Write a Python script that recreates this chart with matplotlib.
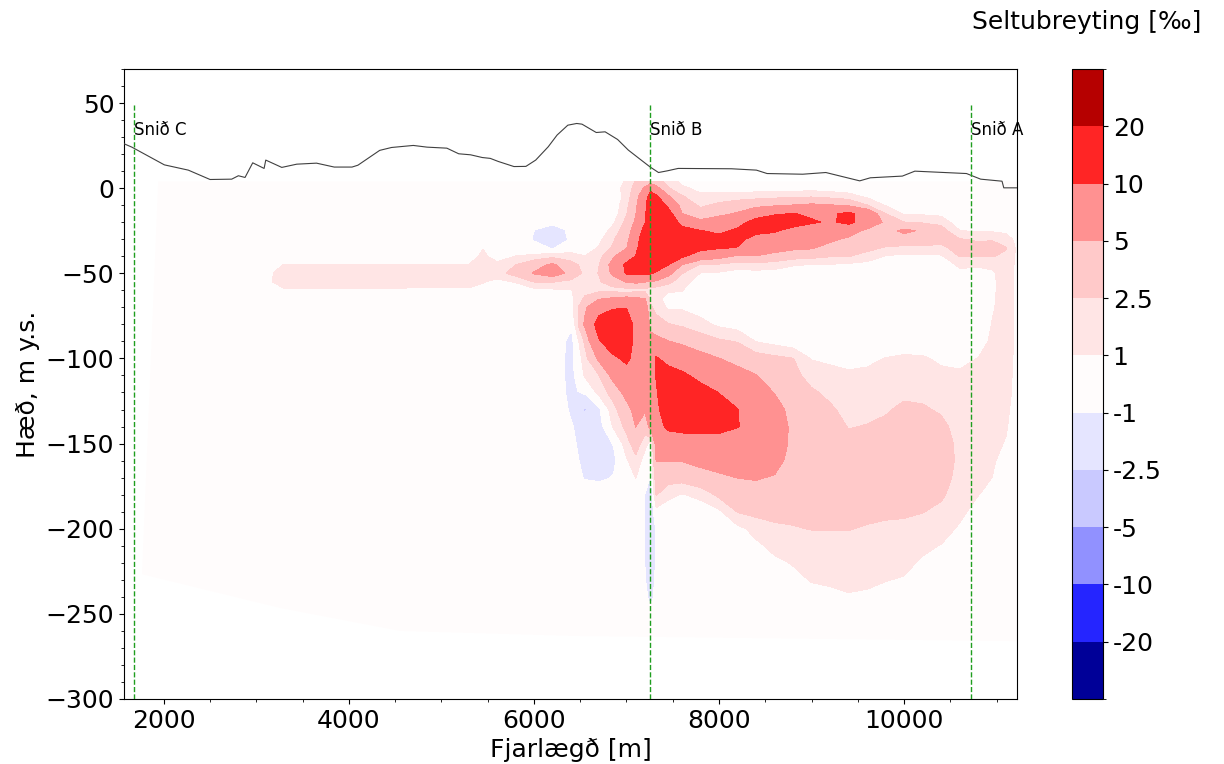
import numpy as np
import matplotlib
matplotlib.use("Agg")
import matplotlib.pyplot as plt
from matplotlib.colors import ListedColormap, BoundaryNorm
from matplotlib.cm import ScalarMappable
from matplotlib.ticker import AutoMinorLocator

plt.rcParams['font.family'] = ['DejaVu Sans']

# ---------------- data ----------------
# ground surface along the profile (distance m, elevation m y.s.)
terrain_dist = [1570, 1655, 2006, 2265, 2500, 2734, 2806, 2878, 2961, 3084, 3102, 3275,
                3437, 3650, 3842, 4034, 4098, 4333, 4461, 4696, 4845, 5059, 5187, 5315,
                5442, 5528, 5614, 5784, 5913, 6019, 6154, 6250, 6366, 6462, 6519, 6673,
                6769, 6904, 7019, 7135, 7254, 7346, 7442, 7558, 8135, 8404, 8519, 8904,
                9154, 9520, 9635, 9981, 10116, 10674, 10827, 11058, 11077, 11220]
terrain_elev = [26.1, 24.1, 13.7, 10.6, 5.1, 5.3, 7.3, 6.3, 14.9, 11.6, 16.5, 12.2,
                14.1, 14.7, 12.4, 12.4, 13.5, 22.2, 23.9, 25.1, 24.1, 23.5, 20.2, 19.6,
                18.0, 17.5, 15.7, 12.7, 12.8, 16.5, 24.3, 31.2, 37.0, 38.0, 37.6, 32.7,
                33.1, 28.6, 22.4, 17.5, 12.5, 9.2, 10.2, 11.6, 11.4, 10.6, 8.6, 8.2,
                9.2, 4.3, 6.1, 7.1, 10.0, 8.6, 5.3, 4.1, 0.2, 0.2]

# cross sections
section_names = ['Snið C', 'Snið B', 'Snið A']
section_dist = [1680, 7254, 10724]

# outline of the model domain
domain_dist = [1940, 11220, 11220, 6489, 4554, 3256, 1765]
domain_elev = [4, 4, -266, -263, -260, -246.5, -226.7]

# grid of salinity change (per mille): nodes in distance and elevation
grid_dist = [1570, 2900, 3100, 3300, 5300, 5450, 5600, 5800, 6000, 6200, 6400, 6550,
             6700, 6850, 7000, 7100, 7200, 7260, 7320, 7450, 7600, 7800, 8000, 8200,
             8400, 8600, 8800, 9000, 9200, 9400, 9600, 9800, 10000, 10200, 10400,
             10600, 10800, 10950, 11100, 11220]
grid_elev = [4, 0, -5, -10, -15, -20, -25, -30, -35, -40, -45, -50, -55, -60, -65,
             -70, -80, -90, -100, -110, -120, -130, -140, -150, -160, -170, -180,
             -190, -200, -210, -220, -230, -240, -250, -265]

# one list per distance node, values from top (4 m) to bottom (-265 m)
salinity_change_cols = [
    [0,0,0,0,0, 0,0,0,0,0, 0,0,0,0,0, 0,0,0,0,0, 0,0,0,0,0, 0,0,0,0,0, 0,0,0,0,0],
    [0,0,0,0,0, 0,0,0,0,0, 0,0,0,0,0, 0,0,0,0,0, 0,0,0,0,0, 0,0,0,0,0, 0,0,0,0,0],
    [0,0,0,0,0, 0,0,0,0,0, 0,0.5,0.6,0.5,0, 0,0,0,0,0, 0,0,0,0,0, 0,0,0,0,0, 0,0,0,0,0],
    [0,0,0,0,0, 0,0,0,0,0, 1.1,1.7,1.7,0.8,0, 0,0,0,0,0, 0,0,0,0,0, 0,0,0,0,0, 0,0,0,0,0],
    [0,0,0,0,0, 0,0,0,0,0, 1.1,1.7,1.7,0.7,0, 0,0,0,0,0, 0,0,0,0,0, 0,0,0,0,0, 0,0,0,0,0],
    [0,0,0,0,0, 0,0,0,0.9,1.5, 1.6,1.6,1.1,0.4,0, 0,0,0,0,0, 0,0,0,0,0, 0,0,0,0,0, 0,0,0,0,0],
    [0,0,0,0,0, 0,0,0,0,0, 1.6,1.8,0.6,0,0, 0,0,0,0,0, 0,0,0,0,0, 0,0,0,0,0, 0,0,0,0,0],
    [0,0,0,0,0, 0,0,0,0,1.05, 2.5,3.2,1.1,0,0, 0,0,0,0,0, 0,0,0,0,0, 0,0,0,0,0, 0,0,0,0,0],
    [0,0,0,0,0, 0,-0.95,-1.05,0,1.3, 4,5.2,2.55,0.5,0, 0,0,0,0,0, 0,0,0,0,0, 0,0,0,0,0, 0,0,0,0,0],
    [0,0,0,0,0, -0.6,-1.5,-1.6,-1.0,2.0, 5.5,6.5,2.6,0.7,0, 0,0,0,0,0, 0,0,0,0,0, 0,0,0,0,0, 0,0,0,0,0],
    [0,0,0,0,0, 0,-0.7,-0.8,0.3,1.5, 3.3,4.2,2.0,0.9,0.6, 0.4,-0.6,-1.3,-1.4,-1.4, -1.3,-1.1,-0.8,-0.5,-0.2, 0,0,0,0,0, 0,0,0,0,0],
    [0,0,0,0,0, 0,0,0,0.3,1.05, 1.8,2.0,1.9,2.0,2.8, 4.5,5.5,2.8,1.8,1.2, -0.6,-2.7,-1.6,-1.6,-1.4, -1.05,0,0,0,0, 0,0,0,0,0],
    [0,0,0,0,0, 0,0,0.6,1.1,1.8, 2.4,2.55,2.3,2.0,4.8, 8.0,12,9.5,5.5,2.4, 1.4,-1.05,-1.5,-1.6,-1.5, -1.2,0,0,0,0, 0,0,0,0,0],
    [0,0,0,0,0, 0.7,1.5,2.2,2.7,4.5, 6.0,5.5,3.5,1.8,5.5, 9.5,14,13,9,5.8, 3.2,1.8,1.05,-0.9,-1.3, -0.9,0,0,0,0, 0,0,0,0,0],
    [1.2,1.8,1.5,2.0,2.4, 3.0,3.6,4.2,4.8,7.5, 11,10.5,5.2,1.6,6, 9.8,14,14,11,8, 6,4,3,1.8,0.8, 0,0,0,0,0, 0,0,0,0,0],
    [2.6,3.0,4.0,4.5,4.9, 5.5,6.5,7.5,8.8,10.2, 13,11,5.6,1.8,5.5, 7,8,8,8.5,8, 7,6,5.05,3.5,2.0, 1.05,0,0,0,0, 0,0,0,0,0],
    [3.3,5.5,7.5,8.3,9.0, 9.8,12,14,14,14, 14,10.5,5.2,2.0,5.2, 7,8,8,8.5,8.5, 7,5.3,3.5,1.5,0.3, -0.4,-0.9,-0.9,-0.9,-0.9, -0.9,-0.8,-0.6,-0.3,0],
    [3.6,8,13,15,16, 16,16,16,16,15, 13,10.5,4.5,1.3,2.0, 2.8,4.2,6,7,8, 8,8,6,0.5,-0.3, -0.9,-1.6,-1.7,-1.7,-1.7, -1.6,-1.5,-1.2,-0.6,0],
    [3.2,6,11,14,15, 15,15,15,15,14, 12,9.5,4.5,1.2,1.6, 2.0,3.2,6,10.5,10.2, 9.5,8.5,8,6,5.05, 3.5,2.6,0.5,-0.7,-0.7, -0.7,-0.6,-0.5,-0.2,0],
    [2.0,2.7,5.5,9,12, 14,14,14,14,12, 10.2,6,3.0,1.3,0.3, 0.8,2.6,5.1,8.5,12, 14,14,11,7,5.1, 3.2,1.5,0,0,0, 0,0,0,0,0],
    [0.6,1.3,2.7,3.8,5.1, 8.5,11.5,12,12,10.8, 4.9,2.55,1.6,1.05,0.5, 0.8,2.2,4.5,7,11, 14,14,11.5,7.5,5.1, 3.2,0.9,0,0,0, 0,0,0,0,0],
    [0,0.6,1.3,2.2,3.3, 5.8,10.2,12,11.5,7, 2.3,0.95,0.3,0,0, 0.3,1.5,3.5,6,8.5, 12,13,11.5,8,5.7, 4.0,1.4,0.2,0,0, 0,0,0,0,0],
    [0,0.5,1.6,2.9,4.4, 6.5,9.0,11.5,10.5,6, 2.2,0.8,0.2,0,0, 0,0.7,2.8,5.05,7, 9.9,12,11,8.5,6.3, 4.5,2.9,0.7,0,0, 0,0,0,0,0],
    [0,0.2,1.8,3.5,5.3, 8.2,10.8,11.5,9.8,4.5, 1.6,0.5,0,0,0, 0,0.3,2.4,4.0,6.2, 8.5,10.1,10.2,7.5,6, 5.05,3.6,2.6,0.6,0, 0,0,0,0,0],
    [0,0.3,1.9,4.2,7.5, 12,11.5,8,6.5,4.9, 1.7,0.6,0,0,0, 0,0,0.95,3.3,5.1, 6.5,7.5,8,7.5,6.3, 5.2,4.0,3.0,1.5,0.7, 0,0,0,0,0],
    [0,0.3,2.1,4.6,9.5, 13,10.5,8,6.3,4.0, 1.6,0.5,0,0,0, 0,0,0.5,2.9,3.8, 4.9,6.3,7.2,7,6, 4.8,3.8,3.0,2.2,1.4, 0.7,0,0,0,0],
    [0,0.3,2.2,5.1,10.2, 12,8.5,6.8,5.6,3.2, 1.1,0.4,0,0,0, 0,0,0,2.55,2.9, 3.5,3.9,4.2,4.2,4.0, 3.8,3.3,2.9,2.4,1.6, 1.1,0.6,0,0,0],
    [0,0.4,2.4,5.5,9.3, 10.5,7.5,6.0,5.3,3.0, 0.95,0.3,0,0,0, 0,0,0,0.9,2.0, 2.7,3.0,3.2,3.4,3.4, 3.3,3.1,2.8,2.55,1.9, 1.5,1.1,0.5,0,0],
    [0,0.3,2.0,5.2,9.3, 9.5,7,5.6,4.0,2.6, 0.9,0.2,0,0,0, 0,0,0,0.7,1.5, 2.2,2.7,3.0,3.2,3.3, 3.2,3.0,2.8,2.55,2.0, 1.6,1.2,0.7,0.1,0],
    [0,0.2,1.6,4.5,11, 11,6.8,4.4,3.2,2.55, 0.7,0.1,0,0,0, 0,0,0,0.4,1.3, 1.8,2.1,2.45,2.8,3.0, 3.0,2.9,2.7,2.55,2.1, 1.7,1.3,0.9,0.2,0],
    [0,0,0.8,2.55,8.0, 8.0,4.2,3.4,2.9,2.0, 0.4,0,0,0,0, 0,0,0,0.6,1.4, 1.9,2.2,2.55,2.8,3.0, 3.1,3.0,2.8,2.4,2.1, 1.7,1.25,0.8,0.2,0],
    [0,0,0,0.9,2.55, 4.3,4.0,3.1,2.4,0.9, 0.2,0,0,0,0, 0,0,0,1.05,1.6, 2.0,2.4,2.7,3.0,3.2, 3.2,3.0,2.7,2.3,2.0, 1.5,1.05,0.6,0.1,0],
    [0,0,0,0,0.8, 2.55,5.6,3.8,2.1,0.6, 0.1,0,0,0,0, 0,0,0,1.3,1.8, 2.3,2.7,3.0,3.2,3.3, 3.3,3.1,2.7,2.2,1.8, 1.35,0.9,0.4,0,0],
    [0,0,0,0,0.8, 2.3,4.6,3.6,2.1,0.6, 0,0,0,0,0, 0,0,0,1.2,1.8, 2.3,2.6,2.9,3.1,3.2, 3.1,2.9,2.55,1.9,1.3, 0.8,0.3,0,0,0],
    [0,0,0,0,0.6, 2.0,3.3,3.0,2.2,0.8, 0,0,0,0,0, 0,0,0,0.7,1.4, 1.9,2.4,2.7,2.9,3.0, 2.9,2.7,2.2,1.6,0.95, 0.3,0,0,0,0],
    [0,0,0,0,0, 0,1.05,2.6,3.0,2.6, 1.3,0.6,0.2,0,0, 0,0,0,0.5,1.3, 1.7,2.0,2.2,2.3,2.3, 2.2,1.9,1.4,0.8,0.3, 0,0,0,0,0],
    [0,0,0,0,0, 0,0.8,2.3,3.0,2.6, 1.2,0.5,0,0,0, 0,0,0,1.05,1.5, 1.7,1.8,1.8,1.7,1.6, 1.3,1.05,0.4,0,0, 0,0,0,0,0],
    [0,0,0,0,0, 0,0.8,2.4,3.0,2.6, 1.3,0.8,0.75,0.75,0.8, 0.85,1.05,1.4,1.6,1.7, 1.7,1.6,1.5,1.4,1.2, 1.0,0.5,0,0,0, 0,0,0,0,0],
    [0,0,0,0,0, 0,0.7,1.6,2.6,2.2, 1.8,1.6,1.6,1.6,1.6, 1.6,1.6,1.6,1.6,1.5, 1.4,1.3,1.15,0.9,0.5, 0.2,0,0,0,0, 0,0,0,0,0],
    [0,0,0,0,0, 0,0.3,0.6,0.7,0.7, 0.7,0.7,0.7,0.7,0.7, 0.7,0.7,0.7,0.65,0.6, 0.6,0.4,0.2,0,0, 0,0,0,0,0, 0,0,0,0,0],
]

levels = [-35, -20, -10, -5, -2.5, -1, 1, 2.5, 5, 10, 20, 35]
tick_levels = [-20, -10, -5, -2.5, -1, 1, 2.5, 5, 10, 20]
tick_labels = ['-20', '-10', '-5', '-2.5', '-1', '1', '2.5', '5', '10', '20']

# ---------------- colours ----------------
seismic = plt.get_cmap('seismic')
n_bins = len(levels) - 1
band_colors = [seismic(((levels[i] + levels[i + 1]) / 2 + 35) / 70) for i in range(n_bins)]
band_colors[5] = (1.0, 0.988, 0.988, 1.0)
fill_colors = list(band_colors)
fill_colors[5] = (1.0, 1.0, 1.0, 0.0)
norm = BoundaryNorm(levels, n_bins)

# ---------------- figure ----------------
fig = plt.figure(figsize=(12.24, 7.64), dpi=100)
ax = fig.add_axes([0.1013, 0.0851, 0.7296, 0.8246])
cax = fig.add_axes([0.8758, 0.0851, 0.0253, 0.8246])

ax.fill(domain_dist, domain_elev, color=band_colors[5], lw=0, zorder=0.5)

values = np.array(salinity_change_cols, dtype=float).T
elev_asc = np.array(grid_elev[::-1], dtype=float)
ax.contourf(np.array(grid_dist, dtype=float), elev_asc, values[::-1],
            levels=levels, cmap=ListedColormap(fill_colors), norm=norm, zorder=1)

ax.plot(terrain_dist, terrain_elev, color='0.25', lw=0.8, zorder=3)
ax.vlines(section_dist, -300, 50, colors='#1f9e1f', linestyles='--', lw=1, zorder=4)
for name, xd in zip(section_names, section_dist):
    ax.text(xd, 34, name, fontsize=12, ha='left', va='center', zorder=5)

ax.set_xlim(1570, 11220)
ax.set_ylim(-300, 70)
ax.set_xticks([2000, 4000, 6000, 8000, 10000])
ax.set_yticks([-300, -250, -200, -150, -100, -50, 0, 50])
ax.xaxis.set_minor_locator(AutoMinorLocator(4))
ax.yaxis.set_minor_locator(AutoMinorLocator(5))
ax.tick_params(labelsize=18)
ax.set_xlabel('Fjarlægð [m]', fontsize=18)
ax.set_ylabel('Hæð, m y.s.', fontsize=18)

sm = ScalarMappable(norm=norm, cmap=ListedColormap(band_colors))
cb = fig.colorbar(sm, cax=cax, ticks=tick_levels, spacing='uniform')
cb.ax.set_yticklabels(tick_labels)
cb.ax.tick_params(labelsize=18)
cb.outline.set_linewidth(0.8)
fig.text(0.888, 0.971, 'Seltubreyting [‰]', fontsize=18, ha='center', va='center')

fig.savefig('out.png', dpi=100)
